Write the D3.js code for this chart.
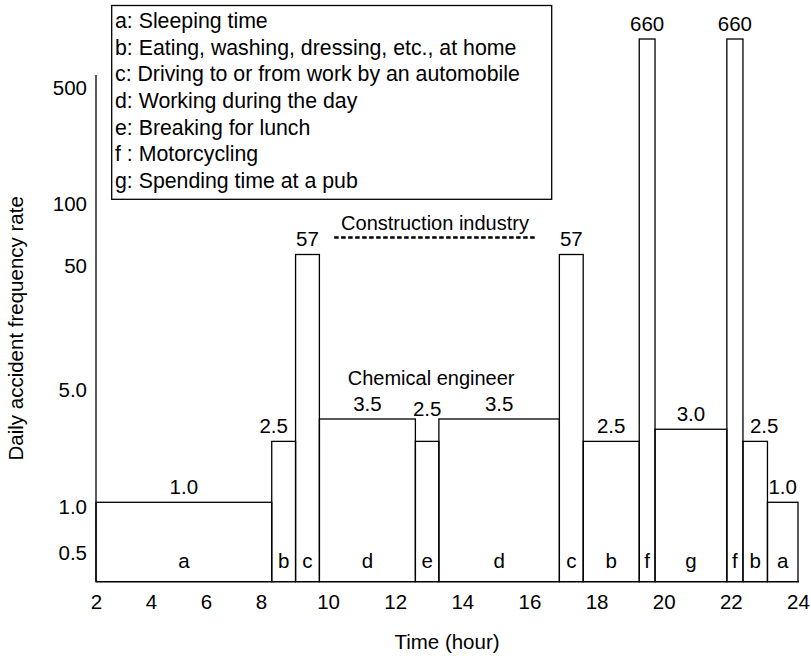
<!DOCTYPE html>
<html><head><meta charset="utf-8">
<script src="https://cdn.jsdelivr.net/npm/d3@7"></script>
<style>
body{margin:0;background:#fff;}
svg text{font-family:'Liberation Sans',Arial,Helvetica,sans-serif;fill:#000;}
</style></head><body>
<svg id="chart" width="811" height="656"></svg>
<script>
// ---- data ----
const boundaries = [2, 8.32, 9.03, 9.74, 12.6, 13.3, 16.89, 17.6, 19.27, 19.74, 21.88, 22.36, 23.09, 24];
const activities = ['a','b','c','d','e','d','c','b','f','g','f','b','a'];
const rates = [1.0, 2.5, 57, 3.5, 2.5, 3.5, 57, 2.5, 660, 3.0, 660, 2.5, 1.0];
const xTicks = [2, 4, 6, 8, 10, 12, 14, 16, 18, 20, 22, 24];
const yTicks = [0.5, 1.0, 5.0, 50, 100, 500];
const yTickLabels = ['0.5', '1.0', '5.0', '50', '100', '500'];
const legendItems = [
  'a: Sleeping time',
  'b: Eating, washing, dressing, etc., at home',
  'c: Driving to or from work by an automobile',
  'd: Working during the day',
  'e: Breaking for lunch',
  'f : Motorcycling',
  'g: Spending time at a pub'
];
const constructionLabel = 'Construction industry';
const constructionSpan = [10.18, 16.19];
const chemicalLabel = 'Chemical engineer';
const chemicalCenter = 13.07;
const xTitle = 'Time (hour)';
const yTitle = 'Daily accident frequency rate';

// ---- scales (schematic axes of the original figure) ----
const yFloor = 0.3;
const x = d3.scaleLinear().domain([2, 8, 24]).range([96, 261, 798]);
const y = d3.scaleLog()
  .domain([yFloor, 1, 3.5, 5, 57, 100, 500, 660])
  .range([581.7, 502.3, 419, 385, 254.5, 199, 83, 39]);
const axisTop = 75;
const FS = 20.5;

const svg = d3.select('#chart');
const base = y(yFloor);

// legend
const lg = svg.append('g');
lg.append('rect').attr('x', 111.7).attr('y', 5.5).attr('width', 440).attr('height', 193.8)
  .attr('fill', 'none').attr('stroke', '#000').attr('stroke-width', 1.3);
lg.selectAll('text').data(legendItems).join('text')
  .attr('x', 115).attr('y', (d, i) => 28 + i * 26.65)
  .attr('font-size', 21.3).text(d => d);

// bars
const bars = rates.map((r, i) => ({act: activities[i], rate: r, x0: boundaries[i], x1: boundaries[i + 1]}));
svg.append('g').selectAll('rect').data(bars).join('rect')
  .attr('x', d => x(d.x0)).attr('y', d => y(d.rate))
  .attr('width', d => x(d.x1) - x(d.x0)).attr('height', d => base - y(d.rate))
  .attr('fill', 'none').attr('stroke', '#000').attr('stroke-width', 1.3);

// category letters
svg.append('g').selectAll('text').data(bars).join('text')
  .attr('x', d => (x(d.x0) + x(d.x1)) / 2).attr('y', base - 14)
  .attr('text-anchor', 'middle').attr('font-size', FS).text(d => d.act);

// value labels
const fmt = v => v < 10 ? d3.format('.1f')(v) : d3.format('d')(v);
const vl = svg.append('g');
bars.forEach((d, i) => {
  const w = x(d.x1) - x(d.x0);
  const cx = (x(d.x0) + x(d.x1)) / 2;
  const t = vl.append('text').attr('text-anchor', 'middle').attr('font-size', FS).text(fmt(d.rate));
  const lw = t.node().getComputedTextLength();
  let ty = y(d.rate) - 8.5, dx = 0;
  if (w < lw - 2) {
    const L = i > 0 ? rates[i - 1] : 0, R = i < rates.length - 1 ? rates[i + 1] : 0;
    const lt = L > d.rate, rt = R > d.rate;
    if (lt && rt) ty = y(Math.min(L, R)) - 3;
    else if (rt) dx = -10;
    else if (lt) dx = 9;
  }
  t.attr('x', cx + dx).attr('y', ty);
});

// x axis
const xa = svg.append('g').attr('transform', `translate(0,${base})`)
  .call(d3.axisBottom(x).tickValues(xTicks).tickSize(0).tickPadding(13).tickFormat(d3.format('d')));
xa.select('.domain').attr('stroke', '#000').attr('stroke-width', 1.3).attr('d', `M${x(2)},0H${x(24) + 1}`);
xa.selectAll('text').attr('font-size', FS).attr('font-family', null);
xa.attr('font-family', null);

// y axis
const ya = svg.append('g').attr('transform', `translate(${x(2)},0)`)
  .call(d3.axisLeft(y).tickValues(yTicks).tickSize(0).tickPadding(9).tickFormat((d, i) => yTickLabels[i]));
ya.select('.domain').remove();
ya.attr('font-family', null);
ya.selectAll('text').attr('font-size', FS).attr('dy', '0.55em');
svg.append('line').attr('x1', x(2)).attr('x2', x(2)).attr('y1', axisTop).attr('y2', base)
  .attr('stroke', '#000').attr('stroke-width', 1.3);

// annotations
const cMid = (x(constructionSpan[0]) + x(constructionSpan[1])) / 2;
svg.append('text').attr('x', cMid).attr('y', y(57) - 24.5).attr('text-anchor', 'middle')
  .attr('font-size', 20).text(constructionLabel);
svg.append('line').attr('x1', x(constructionSpan[0])).attr('x2', x(constructionSpan[1]))
  .attr('y1', y(57) - 17).attr('y2', y(57) - 17)
  .attr('stroke', '#000').attr('stroke-width', 2.4).attr('stroke-dasharray', '4.5,2.5');
svg.append('text').attr('x', x(chemicalCenter)).attr('y', y(3.5) - 34).attr('text-anchor', 'middle')
  .attr('font-size', 20).text(chemicalLabel);

// axis titles
svg.append('text').attr('x', (x(2) + x(24)) / 2).attr('y', 648.5).attr('text-anchor', 'middle')
  .attr('font-size', FS).text(xTitle);
svg.append('text').attr('transform', `translate(16,${(axisTop + base) / 2}) rotate(-90)`)
  .attr('dy', '0.35em').attr('text-anchor', 'middle').attr('font-size', FS).text(yTitle);
</script></body></html>
